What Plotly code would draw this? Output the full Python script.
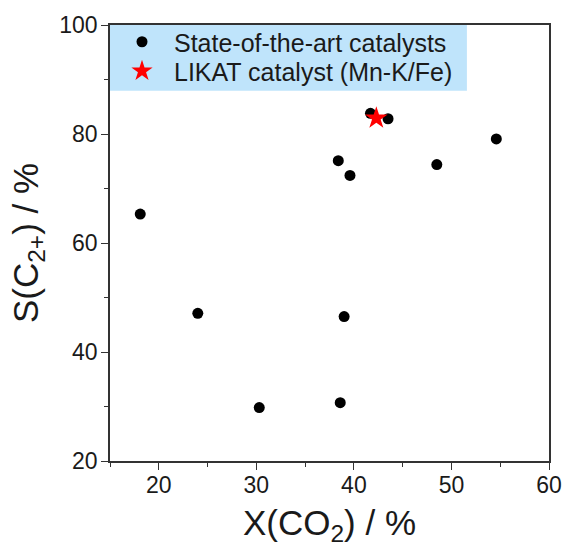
import plotly.graph_objects as go

# State-of-the-art catalysts
sota_x = [18.1, 24.0, 30.3, 38.6, 41.7, 43.5, 38.4, 39.6, 54.6, 48.5, 39.0]
sota_y = [65.3, 47.1, 29.8, 30.7, 83.8, 82.8, 75.1, 72.4, 79.1, 74.4, 46.5]

# LIKAT catalyst
likat_x = [42.3]
likat_y = [82.9]

names = ["State-of-the-art catalysts", "LIKAT catalyst (Mn-K/Fe)"]

x_range = [15, 60]
y_range = [20, 100]
x_ticks = [20, 30, 40, 50, 60]
y_ticks = [20, 40, 60, 80, 100]

font_family = "Arial, Liberation Sans, sans-serif"
ink = "#1a1a1a"

fig = go.Figure()
fig.add_trace(go.Scatter(
    x=sota_x, y=sota_y, mode="markers", name=names[0], legend="legend",
    marker=dict(symbol="circle", size=11, color="black", line=dict(width=0)),
))
fig.add_trace(go.Scatter(
    x=likat_x, y=likat_y, mode="markers", name=names[1], legend="legend2",
    marker=dict(symbol="star", size=17, color="#ff0000", line=dict(width=0)),
))

axis_common = dict(
    showline=True, linecolor="#333333", linewidth=1.5, mirror=True,
    ticks="outside", ticklen=7, tickwidth=1.2, tickcolor="#333333",
    showgrid=False, zeroline=False, automargin=False,
    tickfont=dict(family=font_family, size=23, color=ink),
)

legend_common = dict(
    x=0, xanchor="left", yanchor="middle",
    bgcolor="rgba(0,0,0,0)", borderwidth=0,
    font=dict(family=font_family, size=25, color=ink),
    itemwidth=54,
)

fig.update_layout(
    width=563, height=547,
    margin=dict(l=110, r=14, t=25, b=86),
    plot_bgcolor="white", paper_bgcolor="white",
    font=dict(family=font_family, color=ink),
    xaxis=dict(
        range=x_range, tickvals=x_ticks, ticklabelstandoff=-4,
        minor=dict(dtick=5, tick0=0, ticks="outside", ticklen=4, tickwidth=1.2, tickcolor="#333333"),
        title=dict(text="X(CO<sub>2</sub>) / %", font=dict(family=font_family, size=35, color=ink), standoff=17),
        **axis_common,
    ),
    yaxis=dict(
        range=y_range, tickvals=y_ticks, ticklabelstandoff=-1,
        minor=dict(dtick=10, tick0=0, ticks="outside", ticklen=4, tickwidth=1.2, tickcolor="#333333"),
        title=dict(text="S(C<sub>2+</sub>) / %", font=dict(family=font_family, size=35, color=ink), standoff=10),
        **axis_common,
    ),
    legend=dict(y=0.961, **legend_common),
    legend2=dict(y=0.894, **legend_common),
    shapes=[dict(
        type="rect", xref="x domain", yref="y domain",
        x0=0, x1=0.813, y0=0.849, y1=1,
        fillcolor="#bfe4fb", line=dict(width=0), layer="below",
    )],
    showlegend=True,
)

fig.write_html("out.html")
